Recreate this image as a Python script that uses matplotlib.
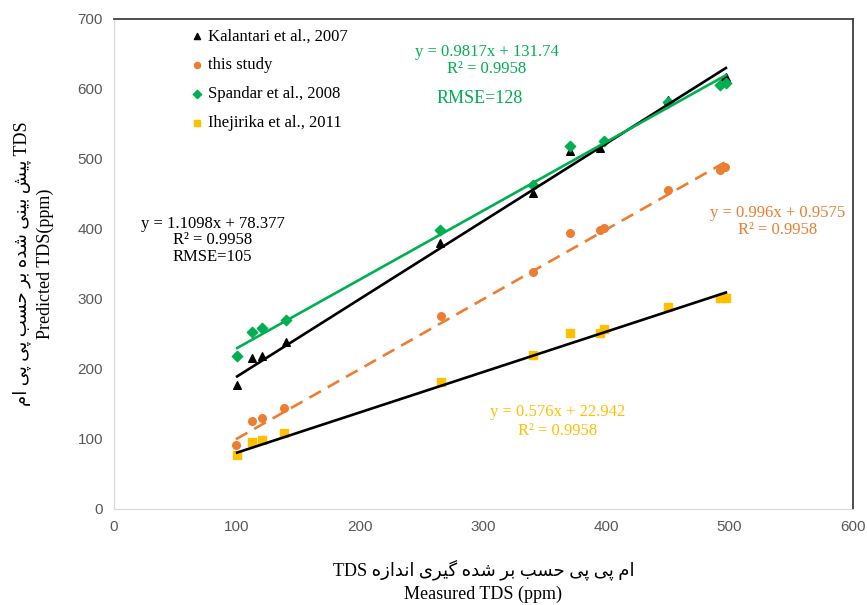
import numpy as np
import matplotlib.pyplot as plt

# measured TDS (ppm) and predicted values of each model
x_kal = [100, 112, 120, 140, 265, 340, 370, 395, 450, 495, 497]
y_kal = [177, 215, 218, 239, 380, 451, 512, 515, 584, 613, 617]

x_this = [99, 112, 120, 138, 266, 340, 370, 395, 398, 450, 492, 496]
y_this = [91, 126, 130, 144, 275, 338, 394, 399, 401, 456, 484, 489]

x_spa = [100, 112, 120, 140, 265, 340, 370, 398, 450, 492, 497]
y_spa = [219, 253, 259, 270, 399, 463, 519, 526, 582, 606, 609]

x_ihe = [100, 112, 120, 138, 266, 340, 370, 395, 398, 450, 492, 497]
y_ihe = [77, 96, 99, 109, 182, 220, 251, 251, 257, 289, 302, 302]

labels = ["Kalantari et al., 2007", "this study", "Spandar et al., 2008", "Ihejirika et al., 2011"]

# trendline coefficients (slope, intercept)
fit_kal = (1.1098, 78.377)
fit_this = (0.996, 0.9575)
fit_spa = (0.9817, 131.74)
fit_ihe = (0.576, 22.942)

c_black = "black"
c_orange = "#ED7D31"
c_green = "#00B050"
c_yellow = "#FFC000"

# --- tiny persian shaper (matplotlib has no bidi / arabic shaping) ---
FORMS = {
    'ا': ('\uFE8D', '\uFE8E', None, None),
    'ب': ('\uFE8F', '\uFE90', '\uFE91', '\uFE92'),
    'پ': ('\uFB56', '\uFB57', '\uFB58', '\uFB59'),
    'ح': ('\uFEA1', '\uFEA2', '\uFEA3', '\uFEA4'),
    'د': ('\uFEA9', '\uFEAA', None, None),
    'ر': ('\uFEAD', '\uFEAE', None, None),
    'ز': ('\uFEAF', '\uFEB0', None, None),
    'س': ('\uFEB1', '\uFEB2', '\uFEB3', '\uFEB4'),
    'ش': ('\uFEB5', '\uFEB6', '\uFEB7', '\uFEB8'),
    'گ': ('\uFB92', '\uFB93', '\uFB94', '\uFB95'),
    'م': ('\uFEE1', '\uFEE2', '\uFEE3', '\uFEE4'),
    'ن': ('\uFEE5', '\uFEE6', '\uFEE7', '\uFEE8'),
    'ه': ('\uFEE9', '\uFEEA', '\uFEEB', '\uFEEC'),
    'ی': ('\uFBFC', '\uFBFD', '\uFBFE', '\uFBFF'),
}

def shape(text):
    out = []
    for i, ch in enumerate(text):
        if ch not in FORMS:
            out.append(ch)
            continue
        prev = text[i-1] if i > 0 else None
        nxt = text[i+1] if i + 1 < len(text) else None
        jp = prev in FORMS and FORMS[prev][2] is not None
        jn = nxt in FORMS and FORMS[ch][2] is not None
        iso, fin, ini, med = FORMS[ch]
        if jp and jn:
            out.append(med)
        elif jp:
            out.append(fin)
        elif jn:
            out.append(ini)
        else:
            out.append(iso)
    return ''.join(out)

def fa(text):
    return shape(text)[::-1]

ylab = fa("پیش بینی شده بر حسب پی پی ام") + " TDS\nPredicted TDS(ppm)"
xlab = "TDS " + fa("ام پی پی حسب بر شده گیری اندازه") + "\nMeasured TDS (ppm)"

serif = ['Liberation Serif', 'DejaVu Sans']

fig = plt.figure(figsize=(8.67, 6.05), dpi=100)
ax = fig.add_axes([0.1315, 0.1587, 0.852, 0.81])

def trend(xs, fit, color, ls='-'):
    xx = np.array([min(xs), max(xs)])
    ax.plot(xx, fit[0]*xx + fit[1], color=color, lw=1.9, ls=ls, zorder=3)

ax.scatter(x_kal, y_kal, marker='^', s=30, color=c_black, label=labels[0], zorder=2)
ax.scatter(x_this, y_this, marker='o', s=30, color=c_orange, label=labels[1], zorder=2)
ax.scatter(x_spa, y_spa, marker='D', s=28, color=c_green, label=labels[2], zorder=2)
ax.scatter(x_ihe, y_ihe, marker='s', s=30, color=c_yellow, label=labels[3], zorder=2)

trend(x_kal, fit_kal, c_black)
trend(x_this, fit_this, c_orange, ls=(0, (5, 3)))
trend(x_spa, fit_spa, c_green)
trend(x_ihe, fit_ihe, c_black)

ax.set_xlim(0, 600)
ax.set_ylim(0, 700)
ax.set_xticks(np.arange(0, 601, 100))
ax.set_yticks(np.arange(0, 701, 100))
ax.tick_params(length=0, labelsize=11, labelcolor='#595959', pad=8)
for lab in ax.get_xticklabels() + ax.get_yticklabels():
    lab.set_family(['Liberation Sans', 'DejaVu Sans'])
for s in ['left', 'bottom']:
    ax.spines[s].set_color('#D9D9D9')
for s in ['top', 'right']:
    ax.spines[s].set_color('#404040')
    ax.spines[s].set_linewidth(1.3)

ax.set_ylabel(ylab, family=serif, fontsize=13, labelpad=17, linespacing=1.45)
ax.set_xlabel(xlab, family=serif, fontsize=13, labelpad=18, linespacing=1.45)

leg = ax.legend(loc='upper left', bbox_to_anchor=(0.087, 1.005), frameon=False,
                prop={'family': serif, 'size': 12}, handlelength=0.8,
                handletextpad=0.3, labelspacing=0.78, markerscale=0.8,
                borderaxespad=0.3)

txt = dict(family=serif, fontsize=12, ha='center', linespacing=1.05)
ax.text(303, 641, "y = 0.9817x + 131.74\nR² = 0.9958", color=c_green, va='center', **txt)
ax.text(297, 587, "RMSE=128", color=c_green, va='center', family=serif, fontsize=13, ha='center')
ax.text(80, 384, "y = 1.1098x + 78.377\nR² = 0.9958\nRMSE=105", color=c_black, va='center', **txt)
ax.text(539, 411, "y = 0.996x + 0.9575\nR² = 0.9958", color=c_orange, va='center', **txt)
ax.text(360, 125, "y = 0.576x + 22.942\nR² = 0.9958", color=c_yellow, va='center',
        family=serif, fontsize=12, ha='center', linespacing=1.3)

fig.savefig("out.png", dpi=100)
